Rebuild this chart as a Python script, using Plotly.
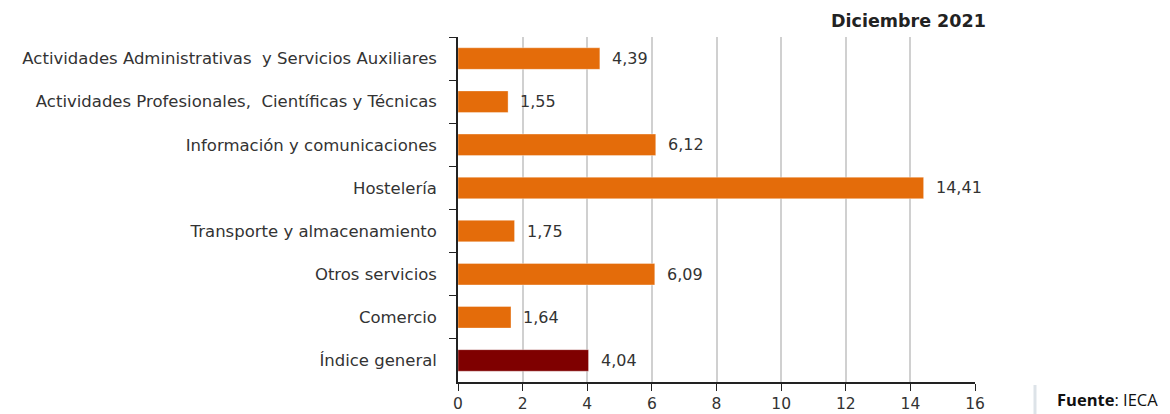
import plotly.graph_objects as go

categories = [
    "Actividades Administrativas  y Servicios Auxiliares",
    "Actividades Profesionales,  Científicas y Técnicas",
    "Información y comunicaciones",
    "Hostelería",
    "Transporte y almacenamiento",
    "Otros servicios",
    "Comercio",
    "Índice general",
]
values = [4.39, 1.55, 6.12, 14.41, 1.75, 6.09, 1.64, 4.04]
value_labels = ["4,39", "1,55", "6,12", "14,41", "1,75", "6,09", "1,64", "4,04"]
bar_colors = ["#E46C0A"] * 7 + ["#7F0000"]
x_ticks = [0, 2, 4, 6, 8, 10, 12, 14, 16]

# page body has an 8px margin; work in figure pixel coords
OFF = 8
W, H = 1170 - OFF, 414 - OFF
L, T = 458 - OFF, 37 - OFF
R = W - (975 - OFF)
B = H - (382 - OFF)
PW, PH = W - L - R, H - T - B

def px(xp):
    return (xp - OFF - L) / PW

def py(yp):
    return (H - B - (yp - OFF)) / PH

fig = go.Figure()
fig.add_trace(go.Bar(
    x=values, y=categories, orientation="h",
    marker=dict(color=bar_colors, line=dict(color="rgba(255,255,255,0.35)", width=1)),
    hoverinfo="skip",
))

for v, c, t in zip(values, categories, value_labels):
    fig.add_annotation(x=v, y=c, text=t, xanchor="left", yanchor="middle",
                       xshift=10, showarrow=False,
                       font=dict(family="DejaVu Sans", size=16, color="#333333"))

fig.add_annotation(x=px(988), y=py(21), xref="paper", yref="paper",
                   text="<b>Diciembre 2021</b>", xanchor="right", yanchor="middle",
                   showarrow=False, font=dict(family="DejaVu Sans", size=17.5, color="#222222"))

fig.add_annotation(x=px(1055), y=py(399), xref="paper", yref="paper",
                   text="<b>Fuente</b>: IECA", xanchor="left", yanchor="middle",
                   showarrow=False, font=dict(family="Open Sans", size=16.5, color="#111111"))

fig.add_shape(type="line", xref="paper", yref="paper",
              x0=px(1035), x1=px(1035), y0=py(385), y1=py(416),
              line=dict(color="#DDE3E8", width=3))

fig.update_layout(
    width=W, height=H,
    margin=dict(l=L, r=R, t=T, b=B, pad=0, autoexpand=False),
    plot_bgcolor="white", paper_bgcolor="white",
    bargap=0.5, showlegend=False,
    font=dict(family="DejaVu Sans", size=16, color="#333333"),
)
fig.update_xaxes(
    range=[0, 16], tickvals=x_ticks, ticktext=[str(v) for v in x_ticks],
    showgrid=True, gridcolor="#D0D0D0", gridwidth=1.5,
    showline=True, linecolor="#222222", linewidth=1.5,
    ticks="outside", ticklen=7, tickcolor="#222222",
    zeroline=False, ticklabelstandoff=0, automargin=False,
    tickfont=dict(family="DejaVu Sans", size=15.5, color="#333333"),
)
fig.update_yaxes(
    autorange="reversed", showline=True, linecolor="#222222", linewidth=1.5,
    ticks="outside", ticklen=7, tickcolor="#222222", tickson="boundaries",
    showgrid=False, ticklabelstandoff=16, automargin=False,
    tickfont=dict(family="DejaVu Sans", size=16.5, color="#333333"),
)

fig.write_html("out.html")
